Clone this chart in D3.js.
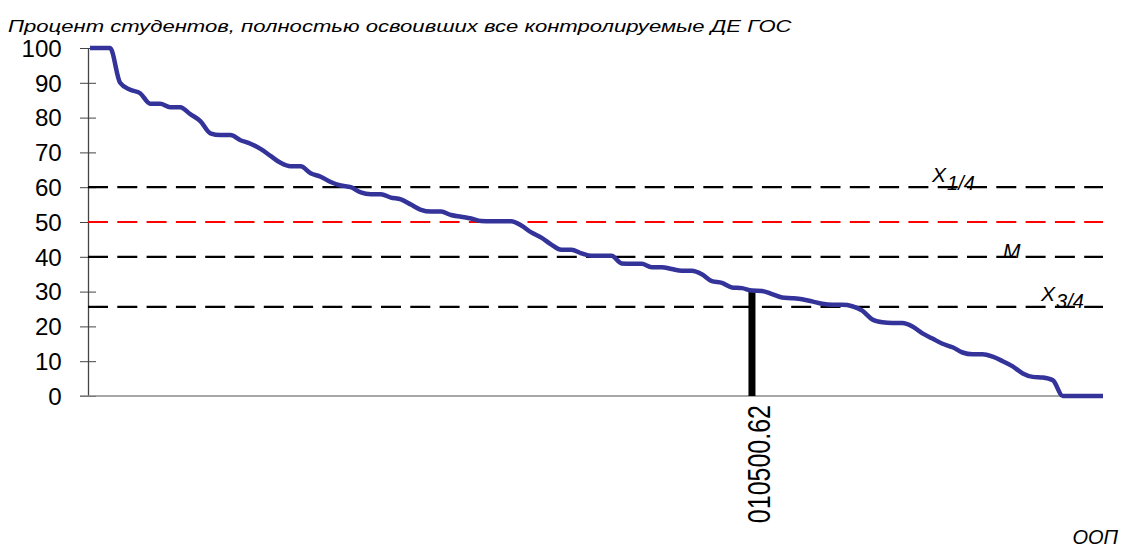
<!DOCTYPE html>
<html>
<head>
<meta charset="utf-8">
<script src="https://cdn.jsdelivr.net/npm/d3@7"></script>
<style>
  body { margin: 0; background: #fff; }
  svg { font-family: "Liberation Sans", Arial, sans-serif; }
</style>
</head>
<body>
<svg id="chart" width="1122" height="547"></svg>
<script>
"use strict";

// percent of students per programme (ООП), sorted descending
const values = [100, 100, 100, 90, 88, 87, 84, 84, 83, 83,
  81, 79, 75.5, 75, 75, 73.5, 72.5, 71, 69, 67,
  66, 66, 64, 63, 61.5, 60.5, 60, 58.5, 58, 58,
  57, 56.5, 55, 53.5, 53, 53, 52, 51.5, 51, 50.3,
  50.2, 50.2, 50.2, 49, 47, 45.5, 43.5, 42, 42, 41,
  40.3, 40.3, 40.3, 38.1, 38, 38, 37, 37, 36.5, 36,
  36, 35, 33, 32.5, 31.2, 31, 30.3, 30.2, 29.3, 28.3,
  28.1, 27.8, 27.2, 26.5, 26.2, 26.2, 25.8, 24.5, 22, 21.2,
  21, 21, 20, 18, 16.5, 15, 14, 12.5, 12, 12,
  11.3, 10, 8.5, 6.5, 5.5, 5.3, 4.5, 0, 0, 0,
  0, 0];

// only one programme is labelled on the axis
const highlightIndex = 66;
const highlightLabel = "010500.62";

const yTicks = [0, 10, 20, 30, 40, 50, 60, 70, 80, 90, 100];

// reference levels
const refLines = [
  { name: "q1", value: 60, color: "#000" },
  { name: "half", value: 50, color: "#ff0000" },
  { name: "median", value: 40, color: "#000" },
  { name: "q3", value: 25.6, color: "#000" }
];

const svg = d3.select("#chart");

const plotLeft = 88, plotRight = 1103, plotTop = 48, plotBottom = 396;

const x = d3.scaleLinear().domain([0, values.length - 1]).range([90, plotRight]);
const y = d3.scaleLinear().domain([0, 100]).range([plotBottom, plotTop]);

// title (the original picture is a bit stretched sideways)
svg.append("text")
  .attr("transform", "translate(8,32) scale(1.3,1)")
  .style("font-size", "17px").style("font-style", "italic")
  .text("Процент студентов, полностью освоивших все контролируемые ДЕ ГОС");

// y axis
const yAxis = svg.append("g")
  .attr("transform", `translate(${plotLeft},0)`)
  .call(d3.axisLeft(y).tickValues(yTicks).tickSize(8).tickSizeOuter(0));
yAxis.select(".domain").attr("stroke", "#444").attr("stroke-width", 1.3);
yAxis.selectAll(".tick line").attr("stroke", "#444").attr("x2", 8).attr("x1", -8);
yAxis.selectAll(".tick text")
  .attr("x", -25).attr("dy", "0.36em")
  .attr("transform", "scale(1.05,1)")
  .style("font-size", "23px").attr("fill", "#000");

// x axis line
svg.append("line")
  .attr("x1", 80).attr("x2", plotRight)
  .attr("y1", y(0)).attr("y2", y(0))
  .attr("stroke", "#888").attr("stroke-width", 1.5);

// dashed reference lines
svg.selectAll(".ref")
  .data(refLines)
  .enter().append("line")
  .attr("class", "ref")
  .attr("x1", plotLeft).attr("x2", plotRight)
  .attr("y1", d => y(d.value)).attr("y2", d => y(d.value))
  .attr("stroke", d => d.color)
  .attr("stroke-width", 2.2)
  .attr("stroke-dasharray", "20,9.3");

// highlighted bar
svg.append("rect")
  .attr("x", x(highlightIndex) - 3.5)
  .attr("y", y(values[highlightIndex]))
  .attr("width", 7)
  .attr("height", y(0) - y(values[highlightIndex]))
  .attr("fill", "#000");

// label under the bar
svg.append("text")
  .attr("transform", `translate(${x(highlightIndex) + 18},${y(0) + 9}) scale(1.22,1) rotate(-90)`)
  .attr("text-anchor", "end")
  .style("font-size", "25px")
  .text(highlightLabel);

// main line
const line = d3.line()
  .x((d, i) => x(i))
  .y(d => y(d))
  .curve(d3.curveMonotoneX);

svg.append("path")
  .datum(values)
  .attr("fill", "none")
  .attr("stroke", "#333399")
  .attr("stroke-width", 4.5)
  .attr("stroke-linejoin", "round")
  .attr("d", line);

// labels on reference lines
function subLabel(xPos, yBase, main, sub, subShift) {
  const t = svg.append("text")
    .attr("x", xPos).attr("y", yBase)
    .style("font-size", "21px").style("font-style", "italic");
  t.append("tspan").text(main);
  if (sub) {
    t.append("tspan").attr("dx", 1).attr("dy", subShift).style("font-size", "20px").text(sub);
  }
}
subLabel(932, y(60) - 5, "X", "1/4", 8);
subLabel(1003, y(40) + 1, "M", null, 0);
subLabel(1041, y(25.6) - 6, "X", "3/4", 7);

// x axis title
svg.append("text")
  .attr("x", 1118).attr("y", 544)
  .attr("text-anchor", "end")
  .style("font-size", "20px").style("font-style", "italic")
  .text("ООП");
</script>
</body>
</html>
